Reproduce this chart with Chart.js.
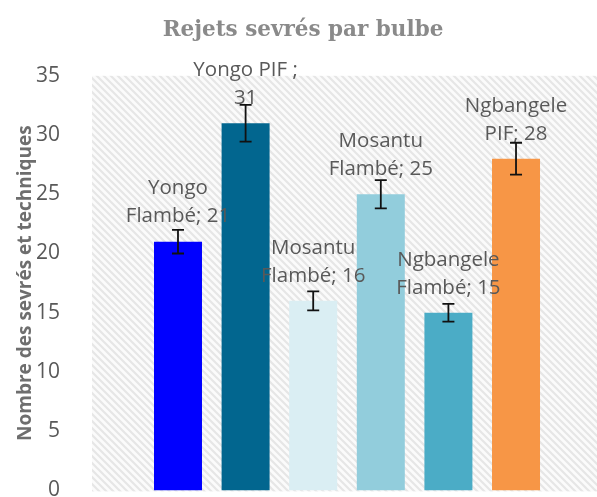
<!DOCTYPE html>
<html>
<head>
<meta charset="utf-8">
<script src="https://cdn.jsdelivr.net/npm/chart.js@4"></script>
<style>
  html, body { margin: 0; padding: 0; background: #fff; overflow: hidden; }
  #wrap { position: relative; width: 597px; height: 497px; overflow: hidden; }
  #rejetsChart { position: absolute; left: 0; top: 0; }
</style>
</head>
<body>
<div id="wrap"><canvas id="rejetsChart" width="606" height="527"></canvas></div>
<script>
// Data
const categories = ['Yongo Flambé', 'Yongo PIF ', 'Mosantu Flambé', 'Mosantu Flambé', 'Ngbangele Flambé', 'Ngbangele PIF'];
const values = [21, 31, 16, 25, 15, 28];
const errors = [1.0, 1.55, 0.8, 1.2, 0.75, 1.35];
const barColors = ['#0000FF', '#02668F', '#DAEEF3', '#92CDDC', '#4BACC6', '#F79646'];
const yTicks = [0, 5, 10, 15, 20, 25, 30, 35];

// greedy word wrap for the data labels
function wrapWords(ctx, text, maxWidth) {
    const words = text.split(' ');
    const lines = [];
    let line = '';
    words.forEach(w => {
        const test = line ? line + ' ' + w : w;
        if (line && ctx.measureText(test).width > maxWidth) {
            lines.push(line);
            line = w;
        } else {
            line = test;
        }
    });
    if (line) lines.push(line);
    return lines;
}

// Hatched plot background
const hatchPlugin = {
    id: 'hatch',
    beforeDraw(chart) {
        const { ctx, chartArea: a } = chart;
        const tile = document.createElement('canvas');
        tile.width = 7;
        tile.height = 7;
        const t = tile.getContext('2d');
        t.fillStyle = '#fbfbfb';
        t.fillRect(0, 0, 7, 7);
        t.strokeStyle = '#e6e6e6';
        t.lineWidth = 2.2;
        t.beginPath();
        t.moveTo(-1, -1); t.lineTo(8, 8);
        t.moveTo(-1, 6); t.lineTo(1, 8);
        t.moveTo(6, -1); t.lineTo(8, 1);
        t.stroke();
        ctx.save();
        ctx.fillStyle = ctx.createPattern(tile, 'repeat');
        ctx.fillRect(a.left, a.top, a.right - a.left, a.bottom - a.top + 1);
        ctx.restore();
    }
};

// Labels above the bars
const barLabelPlugin = {
    id: 'barLabels',
    afterDatasetsDraw(chart) {
        const ctx = chart.ctx;
        const meta = chart.getDatasetMeta(0);
        ctx.save();
        ctx.font = '20.5px "Open Sans"';
        ctx.fillStyle = '#595959';
        ctx.textAlign = 'center';
        ctx.textBaseline = 'middle';
        meta.data.forEach((bar, i) => {
            const lines = wrapWords(ctx, categories[i] + '; ' + values[i], 122);
            lines.forEach((line, k) => {
                ctx.fillText(line, bar.x, bar.y - 25 - (lines.length - 1 - k) * 28);
            });
        });
        ctx.restore();
    }
};

// Error bars
const errorBarPlugin = {
    id: 'errorBars',
    afterDatasetsDraw(chart) {
        const { ctx, scales: { y } } = chart;
        const meta = chart.getDatasetMeta(0);
        ctx.save();
        ctx.strokeStyle = '#111';
        ctx.lineWidth = 1.8;
        meta.data.forEach((bar, i) => {
            const top = y.getPixelForValue(values[i] + errors[i]);
            const bot = y.getPixelForValue(values[i] - errors[i]);
            ctx.beginPath();
            ctx.moveTo(bar.x, top); ctx.lineTo(bar.x, bot);
            ctx.moveTo(bar.x - 6, top); ctx.lineTo(bar.x + 6, top);
            ctx.moveTo(bar.x - 6, bot); ctx.lineTo(bar.x + 6, bot);
            ctx.stroke();
        });
        ctx.restore();
    }
};

const ctx = document.getElementById('rejetsChart').getContext('2d');
const rejetsChart = new Chart(ctx, {
    type: 'bar',
    data: {
        datasets: [{
            data: values.map((v, i) => ({ x: i, y: v })),
            backgroundColor: barColors,
            borderWidth: 0,
            barPercentage: 0.71,
            categoryPercentage: 1
        }]
    },
    options: {
        responsive: false,
        animation: false,
        layout: { padding: 0 },
        plugins: {
            legend: { display: false },
            tooltip: { enabled: false },
            title: {
                display: true,
                text: 'Rejets sevrés par bulbe',
                color: '#8a8a8a',
                font: { family: 'DejaVu Serif', size: 21.5, weight: 'bold' },
                padding: { top: 18, bottom: 32 }
            }
        },
        scales: {
            x: {
                type: 'linear',
                display: false,
                offset: false,
                min: -1.272,
                max: 6.331,
                afterBuildTicks: s => { s.ticks = categories.map((c, i) => ({ value: i })); }
            },
            y: {
                min: 0,
                max: 35,
                afterBuildTicks: s => { s.ticks = yTicks.map(v => ({ value: v })); },
                afterFit: s => { s.width = 92; },
                grid: { display: false },
                border: { display: false },
                ticks: {
                    color: '#595959',
                    font: { family: 'Open Sans', size: 21 },
                    padding: 24
                },
                title: {
                    display: true,
                    text: 'Nombre des sevrés et techniques',
                    color: '#6e6e6e',
                    font: { family: 'Open Sans', size: 19, weight: 'bold' },
                    padding: { top: 14, bottom: 0 }
                }
            }
        }
    },
    plugins: [hatchPlugin, barLabelPlugin, errorBarPlugin]
});
</script>
</body>
</html>
